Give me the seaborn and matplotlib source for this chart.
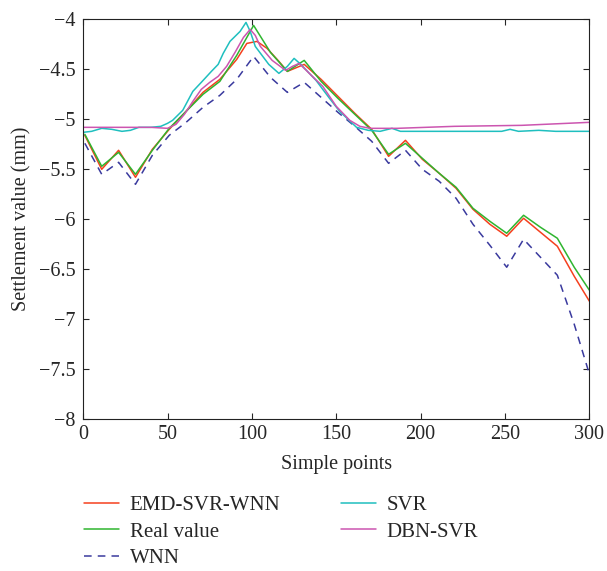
import matplotlib
matplotlib.use("Agg")
import matplotlib.pyplot as plt
import seaborn as sns

# sample positions of the polyline series
x_main = [1, 11, 21, 31, 41, 51, 61, 71, 81, 91, 101, 111, 121, 131, 141, 151,
          161, 171, 181, 191, 201, 211, 221, 231, 241, 251, 261, 271, 281, 291, 300]

real_value = [-5.15, -5.47, -5.33, -5.55, -5.31, -5.09, -4.92, -4.75, -4.62, -4.36,
              -4.06, -4.33, -4.52, -4.41, -4.62, -4.79, -4.95, -5.11, -5.35, -5.24,
              -5.39, -5.54, -5.68, -5.89, -6.02, -6.14, -5.96, -6.08, -6.19, -6.48, -6.71]

x_emd = [1, 11, 21, 31, 41, 51, 61, 71, 81, 91, 97, 103, 109, 116, 121, 131, 141, 151,
         161, 171, 181, 191, 201, 211, 221, 231, 241, 251, 261, 271, 281, 291, 300]
emd_svr_wnn = [-5.16, -5.50, -5.31, -5.58, -5.30, -5.10, -4.92, -4.73, -4.60, -4.40,
               -4.24, -4.22, -4.29, -4.42, -4.52, -4.45, -4.60, -4.77, -4.94, -5.10,
               -5.37, -5.21, -5.40, -5.54, -5.69, -5.90, -6.05, -6.17, -5.99, -6.13,
               -6.27, -6.57, -6.82]

wnn = [-5.24, -5.55, -5.43, -5.65, -5.36, -5.16, -5.03, -4.88, -4.76, -4.60,
       -4.37, -4.58, -4.73, -4.63, -4.78, -4.93, -5.07, -5.22, -5.44, -5.31,
       -5.50, -5.62, -5.79, -6.05, -6.26, -6.48, -6.20, -6.38, -6.56, -7.05, -7.55]

x_svr = [0, 5, 11, 17, 23, 28, 33, 40, 46, 50, 53, 59, 65, 70, 76, 80, 83, 87, 93,
         96.5, 99, 102, 110, 116, 121, 125, 129, 138, 146, 152, 162, 169, 176, 183,
         188, 200, 220, 240, 248, 253, 258, 270, 280, 300]
svr = [-5.13, -5.12, -5.09, -5.10, -5.12, -5.11, -5.08, -5.08, -5.07, -5.04, -5.01,
       -4.91, -4.72, -4.63, -4.52, -4.45, -4.34, -4.22, -4.12, -4.03, -4.12, -4.27,
       -4.45, -4.54, -4.47, -4.39, -4.45, -4.61, -4.79, -4.92, -5.08, -5.11, -5.12,
       -5.09, -5.12, -5.12, -5.12, -5.12, -5.12, -5.10, -5.12, -5.11, -5.12, -5.12]

x_dbn = [0, 20, 40, 50, 55, 60, 65, 70, 75, 80, 85, 90, 95, 99, 102, 105, 112, 120,
         124, 128, 134, 142, 150, 158, 164, 170, 186, 220, 260, 300]
dbn_svr = [-5.08, -5.08, -5.08, -5.09, -5.05, -4.95, -4.82, -4.70, -4.63, -4.57,
           -4.47, -4.33, -4.18, -4.10, -4.16, -4.27, -4.41, -4.51, -4.47, -4.44,
           -4.54, -4.67, -4.87, -5.01, -5.07, -5.09, -5.09, -5.07, -5.06, -5.03]

sns.set_style("ticks")
plt.rcParams['font.family'] = ['Liberation Serif', 'DejaVu Serif']

fig = plt.figure(figsize=(6.07, 5.71), dpi=100)
ax = fig.add_axes([0.137, 0.266, 0.834, 0.700])

lw = 1.1
sns.lineplot(x=x_emd, y=emd_svr_wnn, ax=ax, color='#f5401e', lw=lw, label='EMD-SVR-WNN')
sns.lineplot(x=x_main, y=real_value, ax=ax, color='#2fb52f', lw=lw, label='Real value')
sns.lineplot(x=x_main, y=wnn, ax=ax, color='#3a3a9e', lw=lw, linestyle=(0, (5, 4)), label='WNN')
sns.lineplot(x=x_svr, y=svr, ax=ax, color='#1fbfbf', lw=lw, label='SVR')
sns.lineplot(x=x_dbn, y=dbn_svr, ax=ax, color='#cc55b0', lw=lw, label='DBN-SVR')

ax.set_xlim(0, 300)
ax.set_ylim(-8, -4)
ax.set_xticks(range(0, 301, 50))
ax.set_yticks([-8, -7.5, -7, -6.5, -6, -5.5, -5, -4.5, -4])
ax.set_yticklabels(['\u22128', '\u22127.5', '\u22127', '\u22126.5', '\u22126',
                    '\u22125.5', '\u22125', '\u22124.5', '\u22124'])
ax.tick_params(direction='in', top=True, right=True, length=4, width=0.8, labelsize=14.5)
ax.tick_params(axis='y', pad=5.5)
ax.tick_params(axis='x', pad=4)
for s in ax.spines.values():
    s.set_linewidth(0.8)
    s.set_color('#222222')
ax.set_xlabel('Simple points', fontsize=14.5, labelpad=8)
ax.set_ylabel('Settlement value (mm)', fontsize=14.5, labelpad=5)

handles, labels = ax.get_legend_handles_labels()
ax.get_legend().remove()
fig.legend(handles, labels, loc='upper left', bbox_to_anchor=(0.138, 0.132),
           ncol=2, frameon=False, fontsize=15, handlelength=1.7, handletextpad=0.5,
           columnspacing=2.9, labelspacing=0.33, borderpad=0, borderaxespad=0)

fig.savefig('out.png', dpi=100)
